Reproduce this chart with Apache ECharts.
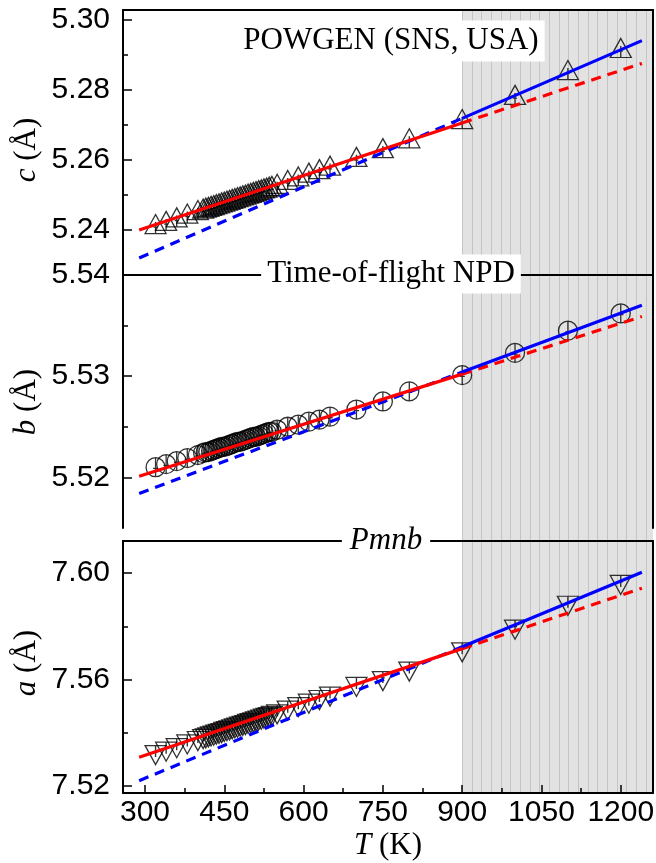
<!DOCTYPE html>
<html><head><meta charset="utf-8">
<script src="https://cdn.jsdelivr.net/npm/echarts@6/dist/echarts.min.js"></script>
<style>html,body{margin:0;padding:0;background:#fff}#main{width:656px;height:863px}</style>
</head><body><div id="main"></div>
<script>
// ---------- data ----------
const temperature = [320,340,360,380,400,410,415,420,425,430,435,440,445,450,455,460,465,470,475,480,485,490,495,500,505,510,515,520,525,530,535,540,550,570,590,610,630,650,700,750,800,900,1000,1100,1200];
const cValues = [5.2417,5.2426,5.2436,5.2447,5.2457,5.2461,5.2464,5.2466,5.2469,5.2471,5.2474,5.2476,5.2479,5.2481,5.2484,5.2486,5.2489,5.2491,5.2494,5.2496,5.2499,5.2501,5.2504,5.2506,5.2509,5.2511,5.2514,5.2516,5.2519,5.2521,5.2524,5.2526,5.2532,5.2543,5.2553,5.2564,5.2574,5.2584,5.2609,5.2634,5.2662,5.2717,5.2786,5.2857,5.2920];
const bValues = [5.5210,5.5213,5.5216,5.5219,5.5222,5.5224,5.5225,5.5225,5.5226,5.5227,5.5228,5.5229,5.5230,5.5230,5.5231,5.5232,5.5233,5.5234,5.5235,5.5235,5.5236,5.5237,5.5238,5.5239,5.5240,5.5240,5.5241,5.5242,5.5243,5.5244,5.5245,5.5245,5.5247,5.5250,5.5252,5.5255,5.5257,5.5260,5.5267,5.5275,5.5285,5.5301,5.5323,5.5345,5.5362];
const aValues = [7.5316,7.5329,7.5342,7.5356,7.5369,7.5376,7.5379,7.5383,7.5386,7.5389,7.5393,7.5396,7.5399,7.5403,7.5406,7.5409,7.5413,7.5416,7.5419,7.5423,7.5426,7.5429,7.5433,7.5436,7.5439,7.5443,7.5446,7.5449,7.5453,7.5456,7.5459,7.5463,7.5469,7.5483,7.5496,7.5509,7.5523,7.5536,7.5572,7.5594,7.5630,7.5702,7.5787,7.5877,7.5955];

// fit lines: low-T fit (red) and high-T fit (blue)
const cRedFit  = [[289,5.2400],[900,5.2706]];
const cRedExt  = [[900,5.2706],[1240,5.2876]];
const cBlueLow = [[289,5.2320],[900,5.2719]];
const cBlueFit = [[900,5.2719],[1240,5.2941]];
const bRedFit  = [[289,5.5201],[900,5.5302]];
const bRedExt  = [[900,5.5302],[1240,5.5359]];
const bBlueLow = [[289,5.5184],[900,5.5304]];
const bBlueFit = [[900,5.5304],[1240,5.5370]];
const aRedFit  = [[289,7.5308],[900,7.5716]];
const aRedExt  = [[900,7.5716],[1240,7.5943]];
const aBlueLow = [[289,7.5220],[900,7.5723]];
const aBlueFit = [[900,7.5723],[1240,7.6003]];

const xTicks = [300,450,600,750,900,1050,1200];
const xMinorTicks = [375,525,675,825,975,1125];
const cTicks = [5.24,5.26,5.28,5.30];
const cMinorTicks = [5.25,5.27,5.29];
const bTicks = [5.52,5.53,5.54];
const bMinorTicks = [5.525,5.535];
const aTicks = [7.52,7.56,7.60];
const aMinorTicks = [7.54,7.58];
const shadeStartT = 900;

// ---------- layout / style ----------
const X_MIN = 258.4, X_MAX = 1261;
const SANS = '"Liberation Sans", Arial, sans-serif';
const SERIF = '"Liberation Serif", "Times New Roman", serif';
const SYM_UP = 'path://M50,2L98,98L2,98Z M50,40L50,98 M41,66L59,66';
const SYM_CIRC = 'path://M0,50A50,50,0,1,1,100,50A50,50,0,1,1,0,50Z M50,0L50,100 M36,56L64,56';
const SYM_DOWN = 'path://M2,2L98,2L50,98Z M50,2L50,60 M41,34L59,34';

const panels = [
  {top:10, height:265, min:5.227143, max:5.302857, ticks:cTicks, minor:cMinorTicks, values:cValues,
   symbol:SYM_UP, size:[21,19], redFit:cRedFit, redExt:cRedExt, blueLow:cBlueLow, blueFit:cBlueFit, bottom:false},
  {top:275, height:253, min:5.51499, max:5.54, ticks:bTicks, minor:bMinorTicks, values:bValues,
   symbol:SYM_CIRC, size:[19,19], redFit:bRedFit, redExt:bRedExt, blueLow:bBlueLow, blueFit:bBlueFit, bottom:false},
  {top:541, height:252, min:7.51737, max:7.61202, ticks:aTicks, minor:aMinorTicks, values:aValues,
   symbol:SYM_DOWN, size:[21,19], redFit:aRedFit, redExt:aRedExt, blueLow:aBlueLow, blueFit:aBlueFit, bottom:true}
];

const AXLINE = {color:'#000', width:2};
const TICKLINE = {color:'#000', width:1.5};
const grids = [], xAxes = [], yAxes = [], series = [];
const mainY = [];
panels.forEach((p, i) => {
  grids.push({left:123, right:3, top:p.top, height:p.height, containLabel:false, outerBoundsMode:'none', show:false});
  const xi = xAxes.length;
  xAxes.push({type:'value', gridIndex:i, position:'bottom', min:X_MIN, max:X_MAX,
    axisLine:{show:p.bottom, onZero:false, lineStyle:AXLINE},
    axisTick:{show:p.bottom, inside:true, length:8, customValues:xTicks, lineStyle:TICKLINE},
    axisLabel:{show:p.bottom, customValues:xTicks, formatter:v => String(Math.round(v)), margin:5, color:'#000', fontFamily:SANS, fontSize:30,
      showMinLabel:true, showMaxLabel:true},
    splitLine:{show:false}});
  if (p.bottom) {
    xAxes.push({type:'value', gridIndex:i, position:'bottom', min:X_MIN, max:X_MAX,
      axisLine:{show:false, onZero:false},
      axisTick:{show:true, inside:true, length:5, customValues:xMinorTicks, lineStyle:TICKLINE},
      axisLabel:{show:false}, splitLine:{show:false}});
  }
  xAxes.push({type:'value', gridIndex:i, position:'top', min:X_MIN, max:X_MAX,
    axisLine:{show:true, onZero:false, lineStyle:AXLINE}, axisTick:{show:false}, axisLabel:{show:false}, splitLine:{show:false}});
  const yi = yAxes.length;
  mainY.push(yi);
  yAxes.push({type:'value', gridIndex:i, position:'left', min:p.min, max:p.max,
    axisLine:{show:true, onZero:false, lineStyle:AXLINE},
    axisTick:{show:true, inside:true, length:9, customValues:p.ticks, lineStyle:TICKLINE},
    axisLabel:{customValues:p.ticks, formatter:v => v.toFixed(2), margin:13, color:'#000', fontFamily:SANS, fontSize:30,
      showMinLabel:true, showMaxLabel:true},
    splitLine:{show:false}});
  yAxes.push({type:'value', gridIndex:i, position:'left', min:p.min, max:p.max,
    axisLine:{show:false, onZero:false},
    axisTick:{show:true, inside:true, length:5, customValues:p.minor, lineStyle:TICKLINE},
    axisLabel:{show:false}, splitLine:{show:false}});
  yAxes.push({type:'value', gridIndex:i, position:'right', min:p.min, max:p.max,
    axisLine:{show:true, onZero:false, lineStyle:AXLINE}, axisTick:{show:false}, axisLabel:{show:false}, splitLine:{show:false}});

  series.push({type:'scatter', xAxisIndex:xi, yAxisIndex:yi, z:3,
    data: temperature.map((t, k) => [t, p.values[k]]),
    symbol:p.symbol, symbolSize:p.size,
    itemStyle:{color:'rgba(0,0,0,0)', borderColor:'#000', borderWidth:1.3}, silent:true});
  const ln = (data, color, dashed, z) => ({type:'line', xAxisIndex:xi, yAxisIndex:yi, data, symbol:'none', z,
    lineStyle:{color, width:3.2, type: dashed ? [10,7] : 'solid'}, silent:true});
  series.push(ln(p.blueLow, '#0000ff', true, 4));
  series.push(ln(p.redExt, '#ff0000', true, 4));
  series.push(ln(p.redFit, '#ff0000', false, 5));
  series.push(ln(p.blueFit, '#0000ff', false, 6));
});

const chart = echarts.init(document.getElementById('main'), null, {renderer:'canvas'});
chart.setOption({animation:false, backgroundColor:'#fff', grid:grids, xAxis:xAxes, yAxis:yAxes, series});

// shaded (hatched) high-temperature region, spanning all panels
const x0 = chart.convertToPixel({xAxisIndex:0}, shadeStartT);
const x1 = chart.convertToPixel({xAxisIndex:0}, X_MAX);
const yTop = chart.convertToPixel({yAxisIndex:mainY[0]}, panels[0].max);
const yBot = chart.convertToPixel({yAxisIndex:mainY[2]}, panels[2].min);
const hatch = [{type:'rect', shape:{x:x0, y:yTop, width:x1 - x0, height:yBot - yTop}, style:{fill:'#e2e2e2'}, z:-2}];
for (let x = x0; x < x1 - 2; x += 9.65) {
  hatch.push({type:'line', shape:{x1:Math.round(x)+0.5, y1:yTop, x2:Math.round(x)+0.5, y2:yBot}, style:{stroke:'#c4c4c4', lineWidth:1}, z:-1});
}
const boxText = (text, x, y, italic, pad) => ({type:'text', x, y, z:50,
  style:{text, fill:'#000', font:(italic ? 'italic ' : '') + '31px ' + SERIF, align:'center', verticalAlign:'middle',
    backgroundColor:'#fff', padding:pad}});
const axisName = (letter, x, y, rot) => ({type:'text', x, y, rotation:rot, z:50,
  style:{text:'{i|' + letter + '}{n| (Å)}', align:'center', verticalAlign:'middle',
    rich:{i:{fontStyle:'italic', fontFamily:SERIF, fontSize:31, fill:'#000'}, n:{fontFamily:SERIF, fontSize:31, fill:'#000'}}}});
chart.setOption({graphic:[
  {type:'group', z:-5, children:hatch},
  boxText('POWGEN (SNS, USA)', 391, 41, false, [5,6]),
  boxText('Time-of-flight NPD', 391, 274, false, [4,6]),
  boxText('Pmnb', 386, 541, true, [3,8]),
  axisName('c', 27, 150, Math.PI/2),
  axisName('b', 27, 402, Math.PI/2),
  axisName('a', 27, 663, Math.PI/2),
  {type:'text', x:388, y:846, z:50,
   style:{text:'{i|T}{n| (K)}', align:'center', verticalAlign:'middle',
     rich:{i:{fontStyle:'italic', fontFamily:SERIF, fontSize:31, fill:'#000'}, n:{fontFamily:SERIF, fontSize:31, fill:'#000'}}}}
]});
</script></body></html>
